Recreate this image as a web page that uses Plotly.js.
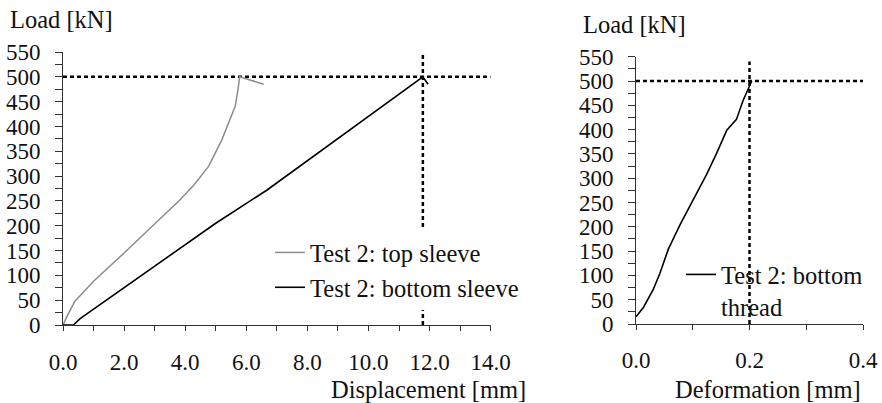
<!DOCTYPE html>
<html>
<head>
<meta charset="utf-8">
<script src="https://cdn.plot.ly/plotly-3.0.1.min.js"></script>
<style>html,body{margin:0;padding:0;background:#fff;}#chart{width:882px;height:403px;}</style>
</head>
<body>
<div id="chart"></div>
<script>
// ---- data ----
const topSleeveX = [0, 0.15, 0.39, 1.0, 2.0, 3.0, 3.84, 4.3, 4.77, 5.2, 5.48, 5.64, 5.73, 5.78, 6.57];
const topSleeveY = [0, 20, 48, 88, 145, 203, 253, 283, 320, 373, 417, 441, 475, 500, 485];
const bottomSleeveX = [0, 0.34, 0.56, 2.0, 3.4, 5.0, 6.68, 7.44, 9.52, 10.6, 11.78, 11.95];
const bottomSleeveY = [0, 0, 13, 75, 137, 205, 272, 306, 398, 447, 500, 485];
const threadX = [0, 0.013, 0.030, 0.042, 0.057, 0.0775, 0.100, 0.124, 0.142, 0.160, 0.177, 0.189, 0.204];
const threadY = [15, 34, 70, 104, 154, 204, 254, 307, 351, 399, 421, 461, 500];
// reference (limit) lines
const leftHX = [0, 14], leftHY = [500, 500];
const leftVX = [11.78, 11.78], leftVY = [0, 550];
const rightHX = [0, 0.4], rightHY = [500, 500];
const rightVX = [0.2, 0.2], rightVY = [0, 540];
const seriesNames = ["Test 2: top sleeve", "Test 2: bottom sleeve", "Test 2: bottom<br>thread"];
const leftXTicks = [0, 2, 4, 6, 8, 10, 12, 14];
const leftXTickText = ["0.0", "2.0", "4.0", "6.0", "8.0", "10.0", "12.0", "14.0"];
const rightXTicks = [0, 0.2, 0.4];
const rightXTickText = ["0.0", "0.2", "0.4"];

const FONT = "Times New Roman";
const FS = 24.5;
const FS_TICK = 23;
const INK = "#111";
const dotLine = {color: "#000", width: 2.5, dash: "4px,3px"};

const traces = [
  {x: leftHX, y: leftHY, xaxis: "x", yaxis: "y", mode: "lines", line: dotLine, showlegend: false, hoverinfo: "skip"},
  {x: leftVX, y: leftVY, xaxis: "x", yaxis: "y", mode: "lines", line: dotLine, showlegend: false, hoverinfo: "skip"},
  {x: topSleeveX, y: topSleeveY, xaxis: "x", yaxis: "y", mode: "lines", name: seriesNames[0], line: {color: "#8c8c8c", width: 1.5}, legend: "legend"},
  {x: bottomSleeveX, y: bottomSleeveY, xaxis: "x", yaxis: "y", mode: "lines", name: seriesNames[1], line: {color: "#000", width: 1.6}, legend: "legend"},
  {x: rightHX, y: rightHY, xaxis: "x2", yaxis: "y2", mode: "lines", line: dotLine, showlegend: false, hoverinfo: "skip"},
  {x: rightVX, y: rightVY, xaxis: "x2", yaxis: "y2", mode: "lines", line: dotLine, showlegend: false, hoverinfo: "skip"},
  {x: threadX, y: threadY, xaxis: "x2", yaxis: "y2", mode: "lines", name: seriesNames[2], line: {color: "#000", width: 1.6}, legend: "legend2"}
];

const axisCommon = {
  showgrid: false, zeroline: false, showline: true, linecolor: "#333", linewidth: 1,
  ticks: "outside", tickcolor: "#333", tickwidth: 1,
  tickfont: {family: FONT, size: FS_TICK, color: INK}, fixedrange: true
};

const px = v => (v - 63) / 800;
const py = v => (325 - v) / 273;
const legFont = {family: FONT, size: FS, color: INK};

const layout = {
  width: 882, height: 403,
  margin: {l: 63, r: 19, t: 52, b: 78},
  paper_bgcolor: "#fff", plot_bgcolor: "rgba(0,0,0,0)",
  font: {family: FONT, size: FS, color: INK},
  showlegend: true,
  xaxis: Object.assign({}, axisCommon, {
    domain: [0, 0.5346], range: [0, 14], tickvals: leftXTicks, ticktext: leftXTickText,
    ticklen: 5, ticklabelstandoff: 11, minor: {dtick: 1, tick0: 0, ticks: "outside", ticklen: 5, tickcolor: "#333"}, anchor: "y"
  }),
  yaxis: Object.assign({}, axisCommon, {
    domain: [0, 1], range: [0, 550], dtick: 50, tick0: 0, ticklen: 7, ticklabelstandoff: 10,
    minor: {dtick: 25, tick0: 0, ticks: "outside", ticklen: 7, tickcolor: "#333"}, anchor: "x"
  }),
  xaxis2: Object.assign({}, axisCommon, {
    domain: [0.71625, 1], range: [0, 0.4], tickvals: rightXTicks, ticktext: rightXTickText,
    ticklen: 5, ticklabelstandoff: 10, minor: {dtick: 0.1, tick0: 0, ticks: "outside", ticklen: 5, tickcolor: "#333"}, anchor: "y2"
  }),
  yaxis2: Object.assign({}, axisCommon, {
    domain: [py(324), py(56.7)], range: [0, 550], dtick: 50, tick0: 0, ticklen: 7, ticklabelstandoff: 10,
    minor: {dtick: 25, tick0: 0, ticks: "outside", ticklen: 7, tickcolor: "#333"}, anchor: "x2"
  }),
  legend: {
    x: px(270), y: py(230), xanchor: "left", yanchor: "top",
    bgcolor: "#fff", borderwidth: 0, font: legFont, itemwidth: 30, tracegroupgap: 0
  },
  legend2: {
    x: px(681), y: py(252), xanchor: "left", yanchor: "top", valign: "top",
    bgcolor: "rgba(0,0,0,0)", borderwidth: 0, font: legFont, itemwidth: 30
  },
  annotations: [
    {text: "Load [kN]", xref: "paper", yref: "paper", x: px(8), y: py(20), xanchor: "left", yanchor: "middle", showarrow: false, font: {family: FONT, size: FS, color: INK}},
    {text: "Load [kN]", xref: "paper", yref: "paper", x: px(581), y: py(25), xanchor: "left", yanchor: "middle", showarrow: false, font: {family: FONT, size: FS, color: INK}},
    {text: "Displacement [mm]", xref: "paper", yref: "paper", x: px(329), y: py(389), xanchor: "left", yanchor: "middle", showarrow: false, font: {family: FONT, size: FS, color: INK}},
    {text: "Deformation [mm]", xref: "paper", yref: "paper", x: px(673), y: py(389.5), xanchor: "left", yanchor: "middle", showarrow: false, font: {family: FONT, size: FS, color: INK}}
  ]
};

Plotly.newPlot("chart", traces, layout, {displayModeBar: false, staticPlot: true});
</script>
</body>
</html>
